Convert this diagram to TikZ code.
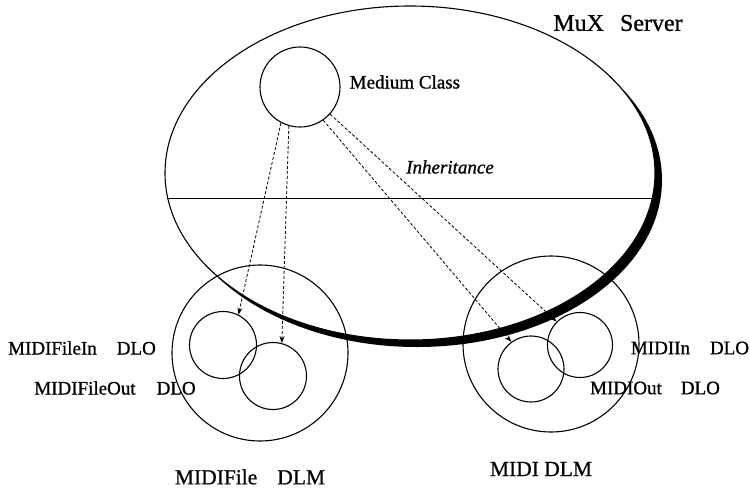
\documentclass[tikz,border=0pt]{standalone}
\usepackage{fontspec}
\setmainfont{Liberation Serif}[FakeBold=0.8]
\usetikzlibrary{positioning,shapes.geometric,shadows,arrows.meta}
\begin{document}
\begin{tikzpicture}
[x=1pt,y=-1pt,
  serverdecorate/.style={shape=ellipse,draw,line width=1.1pt,fill=white,inner sep=0pt,%
    minimum width=490pt,minimum height=334pt,%
    drop shadow={shadow xshift=7pt,shadow yshift=-7pt,fill=black,opacity=1}},%
  nodedecorate/.style={shape=circle,draw,line width=1.1pt,inner sep=0pt},%
  linedecorate/.style={line width=0.8pt,dash pattern=on 3pt off 2pt,-{Stealth[length=7pt,width=5pt]}},%
  labeldecorate/.style={inner sep=0pt,font=\fontsize{19}{22}\selectfont},%
  titledecorate/.style={inner sep=0pt,font=\fontsize{21.5}{24}\selectfont},%
  scale=1]
\useasboundingbox (0,0) rectangle (750,488);
%% server
\node (srv) at (410,173) [serverdecorate] {};
\draw[line width=1.1pt] (srv.186) -- (srv.354);
%% nodes or vertices
\foreach \nodename/\x/\y/\d in {mc/300/87/80, fdlm/260/353/176, mdlm/551/344/176,
  fin/223/345/67, fout/273/376/67, min/580/345/65, mout/531/369/66} {
  \node (\nodename) at (\x,\y) [nodedecorate,minimum size=\d pt] {};
}
%% labels
\node (srvlabel) at (618,23) [inner sep=0pt,font=\fontsize{24}{28}\selectfont] {MuX\hspace{16pt}Server};
\node (mclabel) [labeldecorate,right=9pt of mc,yshift=5pt] {Medium Class};
\node (inhlabel) at (450,167) [labeldecorate] {\itshape Inheritance};
\node (finlabel) at (82,348) [labeldecorate] {MIDIFileIn\hspace{20pt}DLO};
\node (foutlabel) at (115,388) [labeldecorate] {MIDIFileOut\hspace{21pt}DLO};
\node (minlabel) at (690,348) [labeldecorate] {MIDIIn\hspace{20pt}DLO};
\node (moutlabel) at (655,388) [labeldecorate] {MIDIOut\hspace{19pt}DLO};
\node (fdlmlabel) at (250,477) [titledecorate] {MIDIFile\hspace{20pt}DLM};
\node (mdlmlabel) at (541,469) [titledecorate] {MIDI DLM};
%% edges or lines
\path
\foreach \startnode/\endnode in {mc.242/fin.63, mc.254/fout.75, mc.305/mout.126, mc.318/min.135} {
  (\startnode) edge[linedecorate] (\endnode)
};
\end{tikzpicture}
\end{document}
